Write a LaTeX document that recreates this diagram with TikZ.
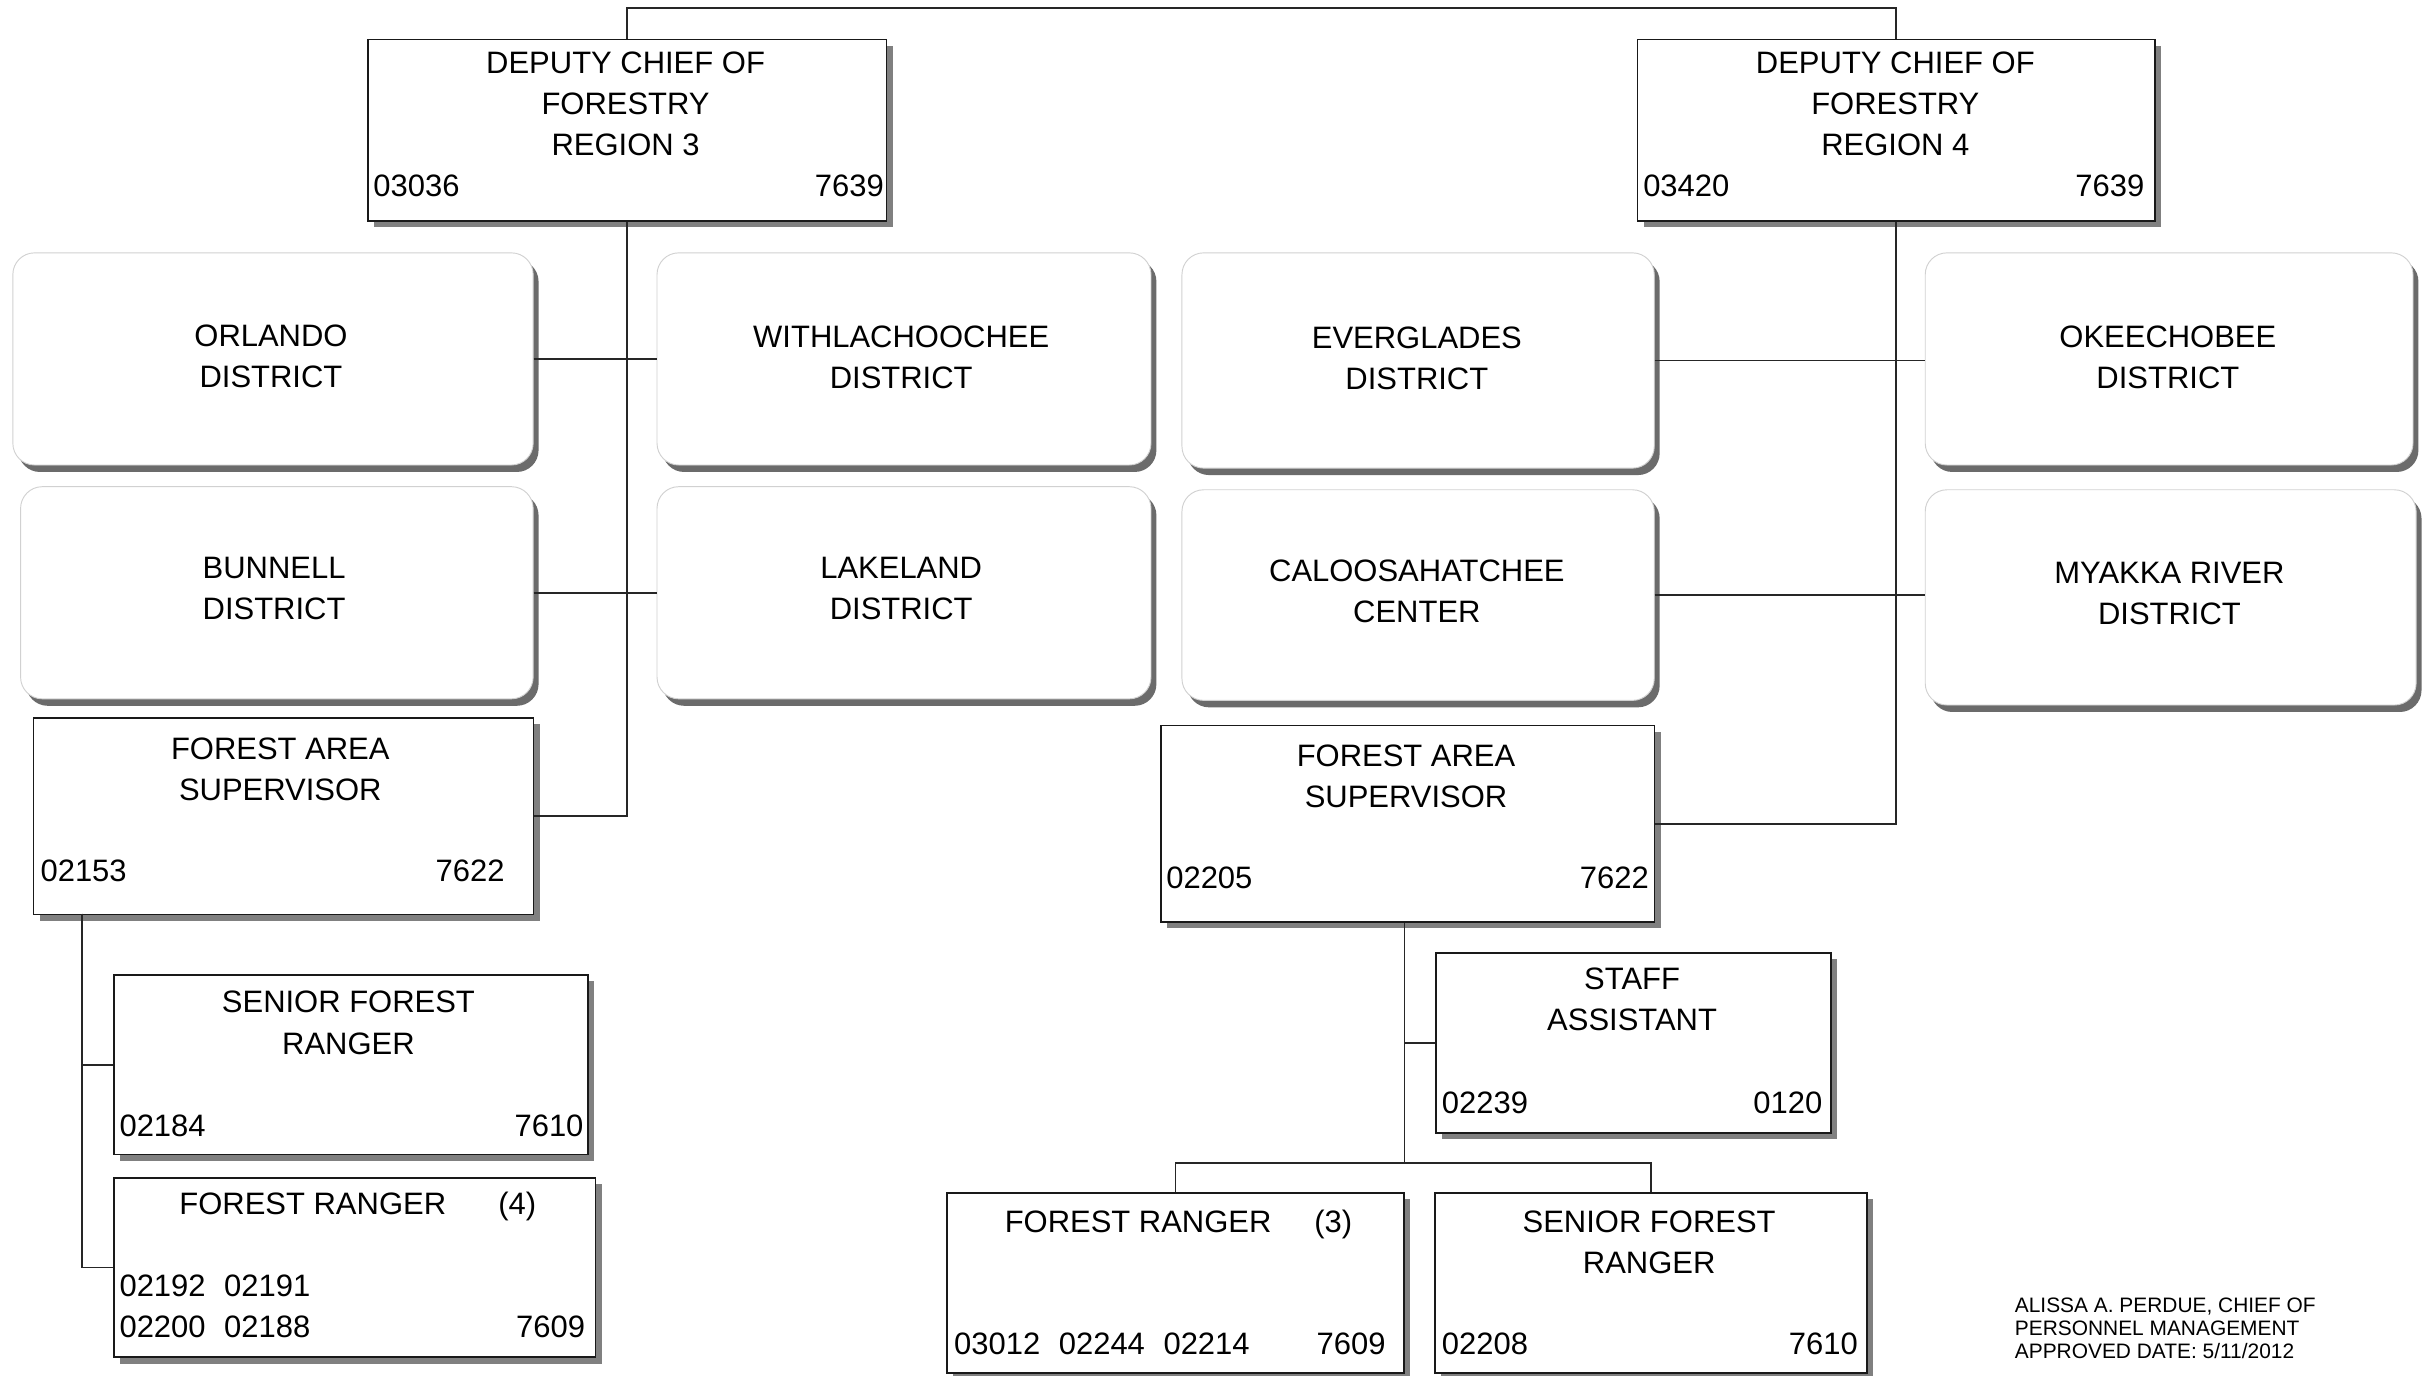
\documentclass[tikz,border=0pt]{standalone}
\usepackage{fontspec}
\setmainfont{Liberation Sans}
\usetikzlibrary{shadows}

\begin{document}
\begin{tikzpicture}[x=1pt,y=-1pt,
  ln/.style={draw=black!85, line width=1.1pt},
  posbox/.style={draw=black!90, line width=1.1pt, fill=white, anchor=north west,
    inner sep=0pt, drop shadow={shadow xshift=4pt, shadow yshift=-4pt, fill=black!50, opacity=1}},
  unitbox/.style={draw=black!18, line width=0.6pt, fill=white, rounded corners=14pt,
    anchor=north west, inner sep=0pt,
    drop shadow={shadow xshift=3.5pt, shadow yshift=-4.5pt, fill=black!58, opacity=1}},
  ttl/.style={font=\fontsize{20}{26.5}\selectfont, align=center, inner sep=0pt, anchor=north},
  utxt/.style={font=\fontsize{20}{26.5}\selectfont, align=center, inner sep=0pt, anchor=center},
  numl/.style={font=\fontsize{20}{24}\selectfont, inner sep=0pt, anchor=base west},
  numr/.style={font=\fontsize{20}{24}\selectfont, inner sep=0pt, anchor=base east},
  numc/.style={font=\fontsize{20}{24}\selectfont, inner sep=0pt, anchor=base},
]
\useasboundingbox (0,0) rectangle (1568,888);
\fill[white] (0,0) rectangle (1568,888);

% ---------- region 3 ----------
\node[posbox, minimum width=335pt, minimum height=117pt] (dc3) at (237,25) {};
\node[ttl] (dc3t) at (404,33) {DEPUTY CHIEF OF\\FORESTRY\\REGION 3};
\node[numl] (dc3a) at (241,127) {03036};
\node[numr] (dc3b) at (571,127) {7639};

\node[unitbox, minimum width=336pt, minimum height=137pt] (orl) at (8,163) {};
\node[utxt] (orlt) at (175,230) {ORLANDO\\DISTRICT};
\node[unitbox, minimum width=319pt, minimum height=137pt] (wit) at (424,163) {};
\node[utxt] (witt) at (582,230.5) {WITHLACHOOCHEE\\DISTRICT};
\node[unitbox, minimum width=331pt, minimum height=137pt] (bun) at (13,314) {};
\node[utxt] (bunt) at (177,380) {BUNNELL\\DISTRICT};
\node[unitbox, minimum width=319pt, minimum height=137pt] (lak) at (424,314) {};
\node[utxt] (lakt) at (582,380) {LAKELAND\\DISTRICT};

\node[posbox, minimum width=323pt, minimum height=127pt] (fas3) at (21,463) {};
\node[ttl] (fas3t) at (181,476) {FOREST AREA\\SUPERVISOR};
\node[numl] (fas3a) at (26,569) {02153};
\node[numr] (fas3b) at (326,569) {7622};

\node[posbox, minimum width=306pt, minimum height=116pt] (sfr3) at (73,629) {};
\node[ttl] (sfr3t) at (225,640) {SENIOR FOREST\\RANGER};
\node[numl] (sfr3a) at (77,734) {02184};
\node[numr] (sfr3b) at (377,734) {7610};

\node[posbox, minimum width=311pt, minimum height=116pt] (fr4) at (73,760) {};
\node[numc] (fr4t) at (202,784) {FOREST RANGER};
\node[numc] (fr4n) at (334,784) {(4)};
\node[numl] (fr4a) at (77,837) {02192\hspace{12pt}02191};
\node[numl] (fr4c) at (77,864) {02200\hspace{12pt}02188};
\node[numr] (fr4b) at (378,864) {7609};

% ---------- region 4 ----------
\node[posbox, minimum width=334pt, minimum height=117pt] (dc4) at (1057,25) {};
\node[ttl] (dc4t) at (1224,33) {DEPUTY CHIEF OF\\FORESTRY\\REGION 4};
\node[numl] (dc4a) at (1061,127) {03420};
\node[numr] (dc4b) at (1385,127) {7639};

\node[unitbox, minimum width=305pt, minimum height=139pt] (eve) at (763,163) {};
\node[utxt] (evet) at (915,231.5) {EVERGLADES\\DISTRICT};
\node[unitbox, minimum width=315pt, minimum height=137pt] (oke) at (1243,163) {};
\node[utxt] (okst) at (1400,230.5) {OKEECHOBEE\\DISTRICT};
\node[unitbox, minimum width=305pt, minimum height=136pt] (cal) at (763,316) {};
\node[utxt] (calt) at (915,382) {CALOOSAHATCHEE\\CENTER};
\node[unitbox, minimum width=317pt, minimum height=139pt] (mya) at (1243,316) {};
\node[utxt] (myat) at (1401,383.5) {MYAKKA RIVER\\DISTRICT};

\node[posbox, minimum width=319pt, minimum height=127pt] (fas4) at (749,468) {};
\node[ttl] (fas4t) at (908,481) {FOREST AREA\\SUPERVISOR};
\node[numl] (fas4a) at (753,574) {02205};
\node[numr] (fas4b) at (1065,574) {7622};

\node[posbox, minimum width=255pt, minimum height=116pt] (stf) at (927,615) {};
\node[ttl] (stft) at (1054,625) {STAFF\\ASSISTANT};
\node[numl] (stfa) at (931,719) {02239};
\node[numr] (stfb) at (1177,719) {0120};

\node[posbox, minimum width=295pt, minimum height=116pt] (fr3) at (611,770) {};
\node[numc] (fr3t) at (735,796) {FOREST RANGER};
\node[numc] (fr3n) at (861,796) {(3)};
\node[numl] (fr3a) at (616,875) {03012\hspace{12pt}02244\hspace{12pt}02214};
\node[numr] (fr3b) at (895,875) {7609};

\node[posbox, minimum width=279pt, minimum height=116pt] (sfr4) at (926,770) {};
\node[ttl] (sfr4t) at (1065,782) {SENIOR FOREST\\RANGER};
\node[numl] (sfr4a) at (931,875) {02208};
\node[numr] (sfr4b) at (1200,875) {7610};

% ---------- approval note ----------
\node[font=\fontsize{13.5}{15}\selectfont, align=left, inner sep=0pt, anchor=north west] (note)
  at (1301,838) {ALISSA A. PERDUE, CHIEF OF\\PERSONNEL MANAGEMENT\\APPROVED DATE: 5/11/2012};

% ---------- connectors ----------
\coordinate (top) at (814,5);
\coordinate (f3tap) at (53,590);
\coordinate (bar4) at (907,751);

\draw[ln] (dc3.north) |- (top) -| (dc4.north);
\draw[ln] (dc3.south) |- (fas3.east);
\draw[ln] (orl.east) -- (orl.east -| wit.west);
\draw[ln] (bun.east) -- (bun.east -| lak.west);
\draw[ln] (dc4.south) |- (fas4.east);
\draw[ln] (eve.east) -- (eve.east -| oke.west);
\draw[ln] (cal.east) -- (cal.east -| mya.west);
\draw[ln] (f3tap) |- (sfr3.west);
\draw[ln] (f3tap) |- (fr4.west);
\draw[ln] (fas4.south -| bar4) -- (bar4);
\draw[ln] (fas4.south -| bar4) |- (stf.west);
\draw[ln] (fr3.north) |- (bar4) -| (sfr4.north);
\end{tikzpicture}
\end{document}
